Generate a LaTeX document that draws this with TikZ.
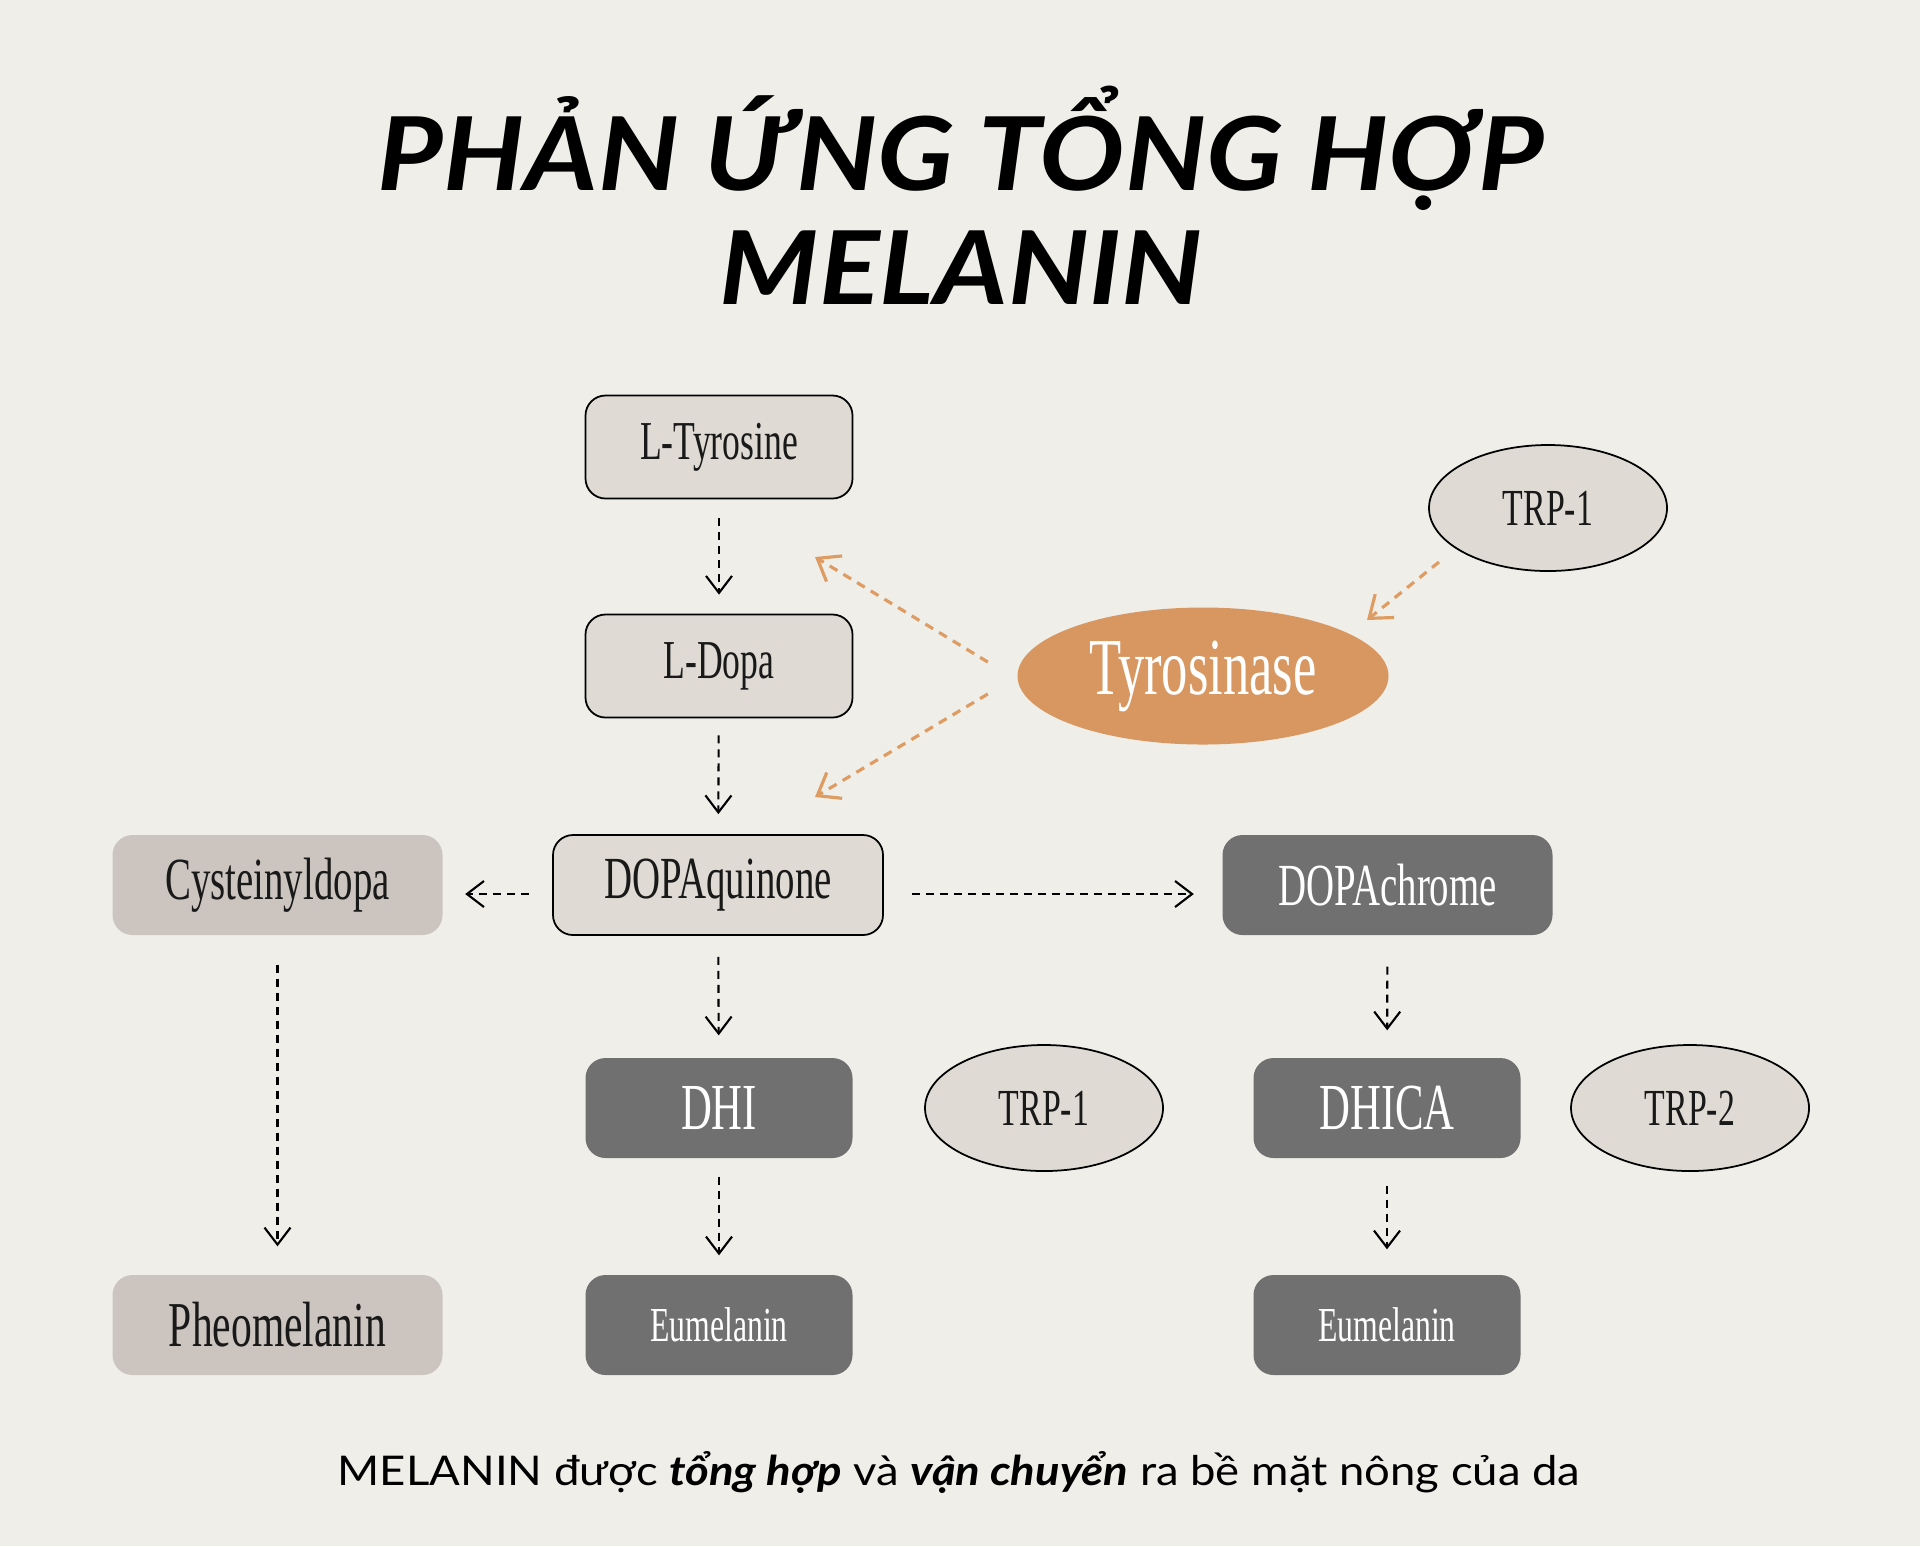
\documentclass[tikz,border=0pt]{standalone}
\usepackage{fontspec}
\usetikzlibrary{arrows.meta,shapes.geometric}
\setmainfont{Liberation Serif}
\newfontfamily\boxfont[FakeStretch=0.65]{Liberation Serif}
\newfontfamily\headfont[FakeStretch=1.11]{Lato}
\definecolor{paper}{HTML}{EFEEE9}
\definecolor{pale}{HTML}{DFDBD4}
\definecolor{taupe}{HTML}{CCC5BF}
\definecolor{slate}{HTML}{707070}
\definecolor{copper}{HTML}{D89760}
\definecolor{copperline}{HTML}{DE9C62}

\begin{document}
\begin{tikzpicture}[
  every node/.style={inner sep=0pt},
  palebox/.style={draw=black, line width=0.5pt, fill=pale, rounded corners=0.2cm, text=black!90},
  taupebox/.style={fill=taupe, rounded corners=0.2cm, text=black!90},
  darkbox/.style={fill=slate, rounded corners=0.2cm, text=white},
  enzyme/.style={ellipse, draw=black, line width=0.5pt, fill=pale, minimum width=2.38cm, minimum height=1.26cm, text=black!90},
  flow/.style={line width=0.6pt, dash pattern=on 0.08cm off 0.06cm, -{Straight Barb[length=0.17cm,width=0.26cm]}},
  acts/.style={copperline, line width=0.9pt, dash pattern=on 0.09cm off 0.07cm, -{Straight Barb[length=0.2cm,width=0.3cm]}},
]
  % Draw the page
  \fill[paper] (0,0) rectangle (19.2,-15.46);
  \useasboundingbox (0,0) rectangle (19.2,-15.46);

  % Draw the title
  \node[anchor=base] (head1) at (9.61,-1.90) {\headfont\fontsize{29}{32}\selectfont\bfseries\itshape PHẢN ỨNG TỔNG HỢP};
  \node[anchor=base] (head2) at (9.61,-3.04) {\headfont\fontsize{29}{32}\selectfont\bfseries\itshape MELANIN};

  % Draw the main chain
  \node[palebox, minimum width=2.67cm, minimum height=1.03cm] (ltyr) at (7.19,-4.47) {\boxfont\fontsize{15.6}{18}\selectfont L-Tyrosine};
  \node[palebox, minimum width=2.67cm, minimum height=1.03cm] (ldopa) at (7.19,-6.66) {\boxfont\fontsize{15.6}{18}\selectfont L-Dopa};
  \node[palebox, minimum width=3.30cm, minimum height=1.00cm] (dopaq) at (7.18,-8.85) {\boxfont\fontsize{17}{20}\selectfont DOPAquinone};
  \node[taupebox, minimum width=3.30cm, minimum height=1.00cm] (cyst) at (2.775,-8.85) {\boxfont\fontsize{17}{20}\selectfont Cysteinyldopa};
  \node[darkbox, minimum width=3.30cm, minimum height=1.00cm] (dopac) at (13.875,-8.85) {\boxfont\fontsize{17}{20}\selectfont DOPAchrome};

  % Draw the second row
  \node[darkbox, minimum width=2.67cm, minimum height=1.00cm] (dhi) at (7.19,-11.08) {\boxfont\fontsize{18.7}{21}\selectfont DHI};
  \node[enzyme] (trpB) at (10.44,-11.08) {\boxfont\fontsize{14.8}{17}\selectfont TRP-1};
  \node[darkbox, minimum width=2.67cm, minimum height=1.00cm] (dhica) at (13.87,-11.08) {\boxfont\fontsize{18.7}{21}\selectfont DHICA};
  \node[enzyme] (trpC) at (16.90,-11.08) {\boxfont\fontsize{14.8}{17}\selectfont TRP-2};

  % Draw the end products
  \node[taupebox, minimum width=3.30cm, minimum height=1.00cm] (pheo) at (2.775,-13.25) {\boxfont\fontsize{18.2}{21}\selectfont Pheomelanin};
  \node[darkbox, minimum width=2.67cm, minimum height=1.00cm] (eumA) at (7.19,-13.25) {\boxfont\fontsize{13.9}{16}\selectfont Eumelanin};
  \node[darkbox, minimum width=2.67cm, minimum height=1.00cm] (eumB) at (13.87,-13.25) {\boxfont\fontsize{13.9}{16}\selectfont Eumelanin};

  % Draw the enzymes
  \node[ellipse, fill=copper, text=white, minimum width=3.71cm, minimum height=1.37cm] (tyr) at (12.03,-6.76) {\boxfont\fontsize{23}{26}\selectfont Tyrosinase};
  \node[enzyme] (trpA) at (15.48,-5.08) {\boxfont\fontsize{14.8}{17}\selectfont TRP-1};

  % Draw the reaction arrows
  \draw[flow, shorten <=0.19cm, shorten >=0.19cm] (ltyr) -- (ldopa);
  \draw[flow, shorten <=0.17cm, shorten >=0.20cm] (ldopa) -- (dopaq);
  \draw[flow, shorten <=0.21cm, shorten >=0.22cm] (dopaq) -- (dhi);
  \draw[flow, shorten <=0.31cm, shorten >=0.27cm] (dopac) -- (dhica);
  \draw[flow, shorten <=0.29cm, shorten >=0.28cm] (cyst) -- (pheo);
  \draw[flow, shorten <=0.18cm, shorten >=0.19cm] (dhi) -- (eumA);
  \draw[flow, shorten <=0.27cm, shorten >=0.25cm] (dhica) -- (eumB);
  \draw[flow, shorten <=0.23cm, shorten >=0.22cm] ([yshift=-0.09cm]dopaq.west) -- ([yshift=-0.09cm]cyst.east);
  \draw[flow, shorten <=0.28cm, shorten >=0.28cm] ([yshift=-0.09cm]dopaq.east) -- ([yshift=-0.09cm]dopac.west);

  % Draw the enzyme arrows
  \coordinate (upA) at (8.15,-5.57);
  \coordinate (dnA) at (8.15,-7.97);
  \draw[acts] ([shift={(-0.29,0.14)}]tyr.west) -- (upA);
  \draw[acts] ([shift={(-0.29,-0.18)}]tyr.west) -- (dnA);
  \draw[acts] ([shift={(-1.09,-0.54)}]trpA.center) -- ([shift={(1.64,0.56)}]tyr.center);

  % Draw the caption
  \node[anchor=base] (note) at (9.59,-14.85) {\headfont\fontsize{11.65}{14}\selectfont MELANIN được \textbf{\textit{tổng hợp}} và \textbf{\textit{vận chuyển}} ra bề mặt nông của da};
\end{tikzpicture}
\end{document}
